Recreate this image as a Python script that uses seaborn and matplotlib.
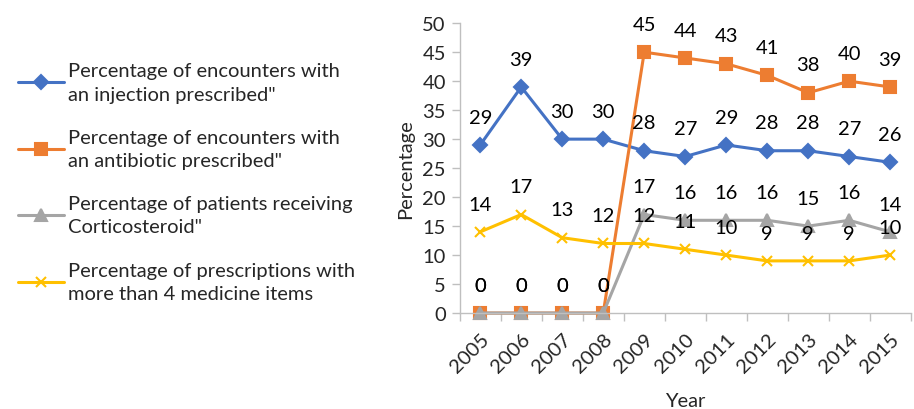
import numpy as np
import pandas as pd
import matplotlib.pyplot as plt
import seaborn as sns

# data
years = [2005, 2006, 2007, 2008, 2009, 2010, 2011, 2012, 2013, 2014, 2015]
injection = [29, 39, 30, 30, 28, 27, 29, 28, 28, 27, 26]
antibiotic = [0, 0, 0, 0, 45, 44, 43, 41, 38, 40, 39]
cortico = [0, 0, 0, 0, 17, 16, 16, 16, 15, 16, 14]
more_than_4 = [14, 17, 13, 12, 12, 11, 10, 9, 9, 9, 10]

names = ['Percentage of encounters with\nan injection prescribed"',
         'Percentage of encounters with\nan antibiotic prescribed"',
         'Percentage of patients receiving\nCorticosteroid"',
         'Percentage of prescriptions with\nmore than 4 medicine items']
colors = ['#4472C4', '#ED7D31', '#A5A5A5', '#FFC000']
markers = ['D', 's', '^', 'x']
msizes = [7, 8.5, 8.5, 7.5]

sns.set_style('white')
plt.rcParams['font.family'] = ['Lato', 'DejaVu Sans']
fs = 14.5

fig = plt.figure(figsize=(9.14, 4.10), dpi=100)
ax = fig.add_axes([0.503, 0.234, 0.4934, 0.707])

for vals, name, c, m, ms in zip([injection, antibiotic, cortico, more_than_4], names, colors, markers, msizes):
    df = pd.DataFrame({'Year': years, 'Percentage': vals})
    sns.lineplot(data=df, x='Year', y='Percentage', ax=ax, color=c, marker=m, markersize=ms,
                 markeredgecolor=c, markeredgewidth=1.5, linewidth=2.2, label=name, clip_on=False)
    for x, y in zip(years, vals):
        ax.annotate(str(y), (x, y), xytext=(0, 20), textcoords='offset points',
                    ha='center', va='center', fontsize=fs, color='black')

ax.set_xlim(2004.5, 2015.5)
ax.set_ylim(0, 50)
ax.set_yticks(np.arange(0, 51, 5))
ax.set_xticks(years)
ax.set_xticks(np.arange(2004.5, 2015.6, 1), minor=True)
ax.set_xticklabels([str(y) for y in years], rotation=45, ha='right', rotation_mode='anchor')
ax.tick_params(axis='x', which='major', length=0, pad=12, labelsize=fs)
ax.tick_params(axis='x', which='minor', length=6, color='#BFBFBF', width=1, direction='out', bottom=True)
ax.tick_params(axis='y', length=6, color='#BFBFBF', width=1, direction='out', left=True, labelsize=fs, pad=4)
sns.despine(ax=ax)
for s in ['left', 'bottom']:
    ax.spines[s].set_color('#BFBFBF')
    ax.spines[s].set_linewidth(1)
ax.set_xlabel('Year', fontsize=fs, labelpad=12)
ax.set_ylabel('Percentage', fontsize=fs, labelpad=6)

handles, labels = ax.get_legend_handles_labels()
ax.get_legend().remove()
leg = fig.legend(handles, labels, loc='upper left', bbox_to_anchor=(0.0, 0.89), frameon=False,
                 fontsize=fs, handlelength=2.3, handletextpad=0.2, labelspacing=1.3)
for t in leg.get_texts():
    t.set_linespacing(1.45)

fig.savefig('out.png', dpi=100)
